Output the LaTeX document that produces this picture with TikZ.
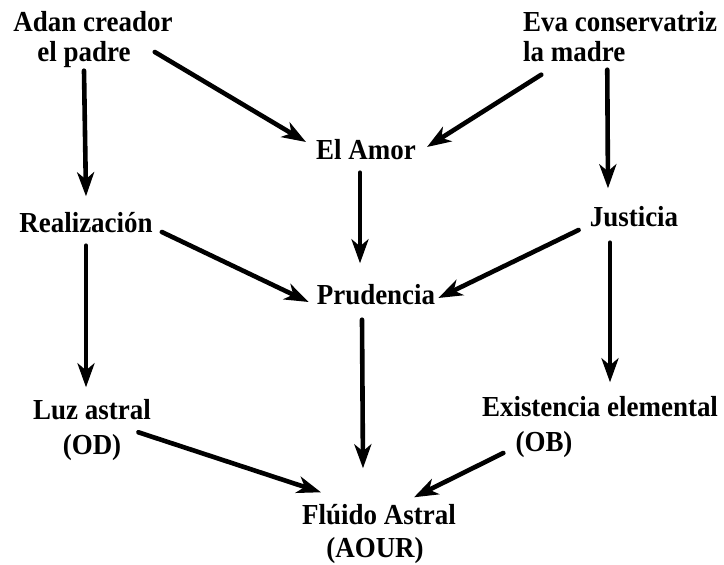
\documentclass[tikz,border=0pt]{standalone}
\usepackage{fontspec}
\setmainfont{Liberation Serif}[FakeStretch=0.93]
\usetikzlibrary{arrows.meta}
\begin{document}
\begin{tikzpicture}[x=1pt,y=-1pt,
  lbl/.style={font=\fontsize{29}{32}\selectfont\bfseries, inner sep=0pt, text height=19pt, text depth=6pt},
  arr/.style={line width=4.6pt, line cap=round, -{Stealth[length=24pt,width=17pt,inset=7pt]}}]
\useasboundingbox (0,0) rectangle (724,565);
% nodes
\node[lbl] (adan1) at (93,25) {Adan creador};
\node[lbl] (adan2) at (84,55) {el padre};
\node[lbl,anchor=west] (eva1) at (523,25) {Eva conservatriz};
\node[lbl,anchor=west] (eva2) at (523,55) {la madre};
\node[lbl] (amor) at (366,153) {El Amor};
\node[lbl] (real) at (86,226) {Realización};
\node[lbl] (just) at (634,220) {Justicia};
\node[lbl] (prud) at (376,298) {Prudencia};
\node[lbl] (luz1) at (92,413) {Luz astral};
\node[lbl] (luz2) at (92,448) {(OD)};
\node[lbl] (exis) at (600,410) {Existencia elemental};
\node[lbl] (ob) at (544,445) {(OB)};
\node[lbl] (flu1) at (379,518) {Flúido Astral};
\node[lbl] (flu2) at (375,551) {(AOUR)};
% connectors
\draw[arr] ([shift={(0,3)}]adan2.south) -- ([shift={(0,-17)}]real.north);
\draw[arr] ([shift={(24,-3)}]adan2.east) -- ([shift={(-10,-11)}]amor.west);
\draw[arr] ([shift={(-33,7)}]eva2.south) -- ([shift={(11,-6)}]amor.east);
\draw[arr] ([shift={(33,2)}]eva2.south) -- ([shift={(-26,-19)}]just.north);
\draw[arr] ([shift={(-6,7)}]amor.south) -- ([shift={(-16,-22)}]prud.north);
\draw[arr] ([shift={(9,6)}]real.east) -- ([shift={(-8,4)}]prud.west);
\draw[arr] ([shift={(-11,10)}]just.west) -- ([shift={(3,0)}]prud.east);
\draw[arr] ([shift={(0,7)}]real.south) -- ([shift={(-6,-13)}]luz1.north);
\draw[arr] ([shift={(-24,10)}]just.south) -- ([shift={(10,-15)}]exis.north);
\draw[arr] ([shift={(-14,9)}]prud.south) -- ([shift={(-16,-37)}]flu1.north);
\draw[arr] ([shift={(17,-3)}]luz2.north east) -- ([shift={(19,-13)}]flu1.north west);
\draw[arr] ([shift={(-12,8)}]ob.west) -- ([shift={(-42,-8)}]flu1.north east);
\end{tikzpicture}
\end{document}
